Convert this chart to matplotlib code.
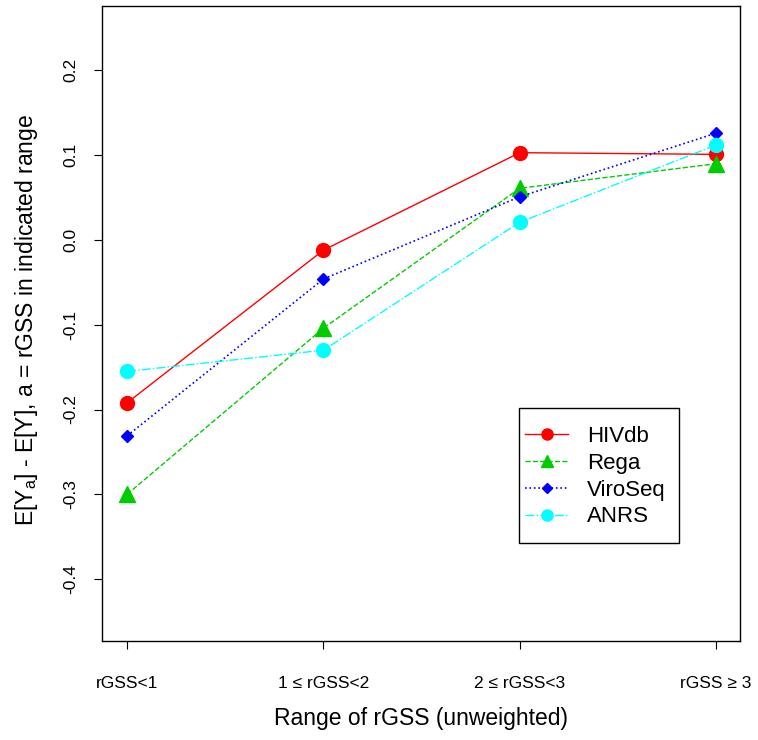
import matplotlib
matplotlib.use("Agg")
import matplotlib.pyplot as plt
from matplotlib.patches import Rectangle

plt.rcParams['font.family'] = ['Liberation Sans', 'DejaVu Sans']
plt.rcParams['mathtext.fontset'] = 'custom'
plt.rcParams['mathtext.rm'] = 'Liberation Sans'
plt.rcParams['mathtext.it'] = 'Liberation Sans'

# data
categories = ["rGSS<1", "1 \u2264 rGSS<2", "2 \u2264 rGSS<3", "rGSS \u2265 3"]
hivdb = [-0.192, -0.012, 0.103, 0.101]
rega = [-0.300, -0.104, 0.061, 0.090]
viroseq = [-0.231, -0.046, 0.051, 0.126]
anrs = [-0.155, -0.130, 0.021, 0.112]
yticks = [-0.4, -0.3, -0.2, -0.1, 0.0, 0.1, 0.2]

x = list(range(1, len(categories) + 1))

fig = plt.figure(figsize=(7.58, 7.40), dpi=100)
ax = fig.add_axes([102/758, 99/740, 638/758, 635/740])

ax.plot(x, hivdb, '-', color='#FF0000', lw=1, marker='o', ms=10, label='HIVdb')
ax.plot(x, rega, '--', color='#00CD00', lw=1, marker='^', ms=11, label='Rega')
ax.plot(x, viroseq, ':', color='#0000FF', lw=1.2, marker='D', ms=6.5, label='ViroSeq')
ax.plot(x, anrs, '-.', color='#00FFFF', lw=1, marker='o', ms=10, label='ANRS')

ax.set_xlim(0.872, 4.122)
ax.set_ylim(-0.473, 0.276)
ax.set_xticks(x)
ax.set_xticklabels(categories, fontsize=12.5)
ax.set_yticks(yticks)
ax.set_yticklabels(["%.1f" % v for v in yticks], fontsize=12.5, rotation=90, va='center')
ax.tick_params(axis='x', length=6, pad=19)
ax.tick_params(axis='y', length=6, pad=11)
for s in ax.spines.values():
    s.set_linewidth(1)

ax.set_xlabel("Range of rGSS (unweighted)", fontsize=16.5, va='center')
ax.xaxis.set_label_coords(0.5, (641 - 718) / 635)
ax.set_ylabel("E[Y$_\\mathrm{a}$] - E[Y], a = rGSS in indicated range", fontsize=16.5, va='center')
ax.yaxis.set_label_coords((27 - 102) / 638, 0.505)

# legend box drawn by hand (R style: tight sides, roomy top/bottom)
fig.patches.append(Rectangle((519/758, (740-543)/740), 160/758, 135/740,
                             transform=fig.transFigure, fill=False,
                             edgecolor='black', lw=1))
leg = ax.legend(loc='upper left', bbox_to_anchor=(525/758, (740-426)/740),
                bbox_transform=fig.transFigure, borderaxespad=0, borderpad=0,
                fontsize=16, frameon=False, markerscale=0.8,
                handlelength=1.94, handletextpad=0.86, labelspacing=0.26)

fig.savefig("out.png", dpi=100)
